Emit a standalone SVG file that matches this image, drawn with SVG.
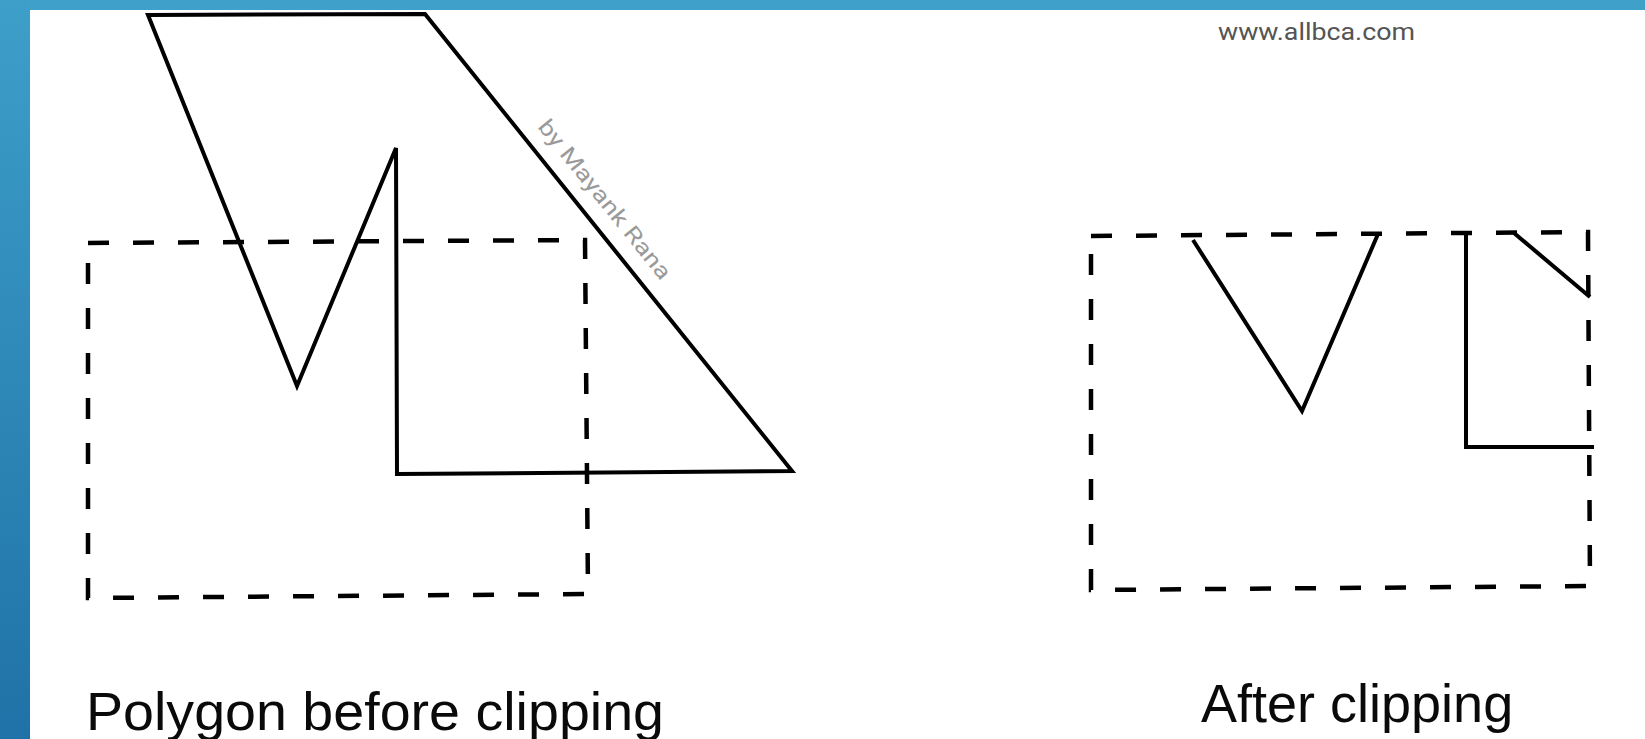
<svg xmlns="http://www.w3.org/2000/svg" width="1645" height="739" viewBox="0 0 1645 739">
  <defs>
    <linearGradient id="side" x1="0" y1="0" x2="0" y2="1">
      <stop offset="0" stop-color="#3e9fc9"/>
      <stop offset="1" stop-color="#1f72a7"/>
    </linearGradient>
    <style>
      .poly { fill: none; stroke: #000; stroke-width: 4; stroke-linejoin: miter; stroke-linecap: butt; }
      .clip { fill: none; stroke: #000; stroke-width: 4.5; stroke-dasharray: 21 24; }
      .label { font-family: "Liberation Sans", Arial, sans-serif; font-size: 54px; fill: #0a0a0a; }
      .mark { font-family: Roboto, "Liberation Sans", sans-serif; fill: #9a9a9a; }
    </style>
  </defs>
  <rect x="0" y="0" width="1645" height="739" fill="#ffffff"/>
  <rect x="0" y="0" width="1645" height="10" fill="#3fa0c9"/>
  <rect x="0" y="0" width="30" height="739" fill="url(#side)"/>

  <text class="mark" x="1218" y="40" font-size="24" style="fill:#555" textLength="197" lengthAdjust="spacingAndGlyphs">www.allbca.com</text>

  <g id="before">
    <polygon id="clip-window-before" class="clip" points="88,243 585,240 588,594 88,598"/>
    <polygon id="polygon-before" class="poly" points="148,15 425,14 792,471 397,474 396,148 297,386"/>
    <text class="mark" font-size="22" transform="translate(537,127) rotate(51.2)" textLength="198" lengthAdjust="spacingAndGlyphs">by Mayank Rana</text>
    <text class="label" x="86" y="730" textLength="578" lengthAdjust="spacingAndGlyphs">Polygon before clipping</text>
  </g>

  <g id="after">
    <polygon id="clip-window-after" class="clip" points="1091,236 1588,232 1590,586 1091,590"/>
    <g id="clipped-pieces">
      <polyline class="poly" points="1193,240 1302,411 1378,234"/>
      <polyline class="poly" points="1466,234 1466,447 1594,447"/>
      <polyline class="poly" points="1514,233 1590,297"/>
    </g>
    <text class="label" x="1201" y="722">After clipping</text>
  </g>
</svg>
